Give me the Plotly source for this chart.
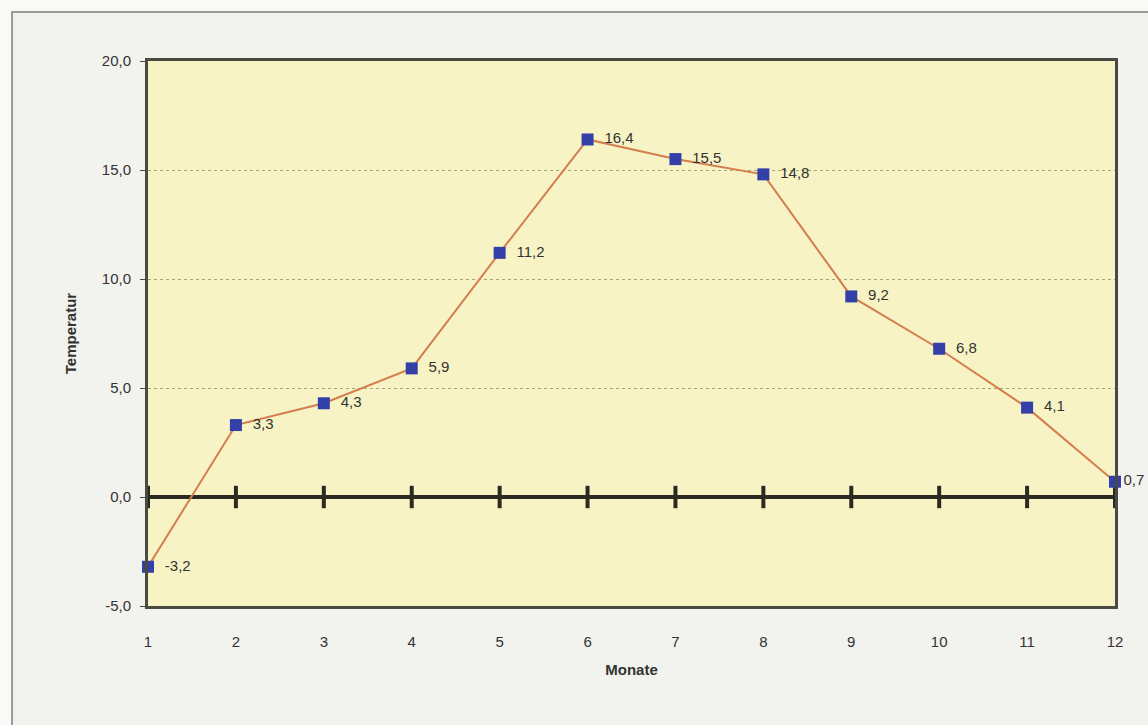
import plotly.graph_objects as go

months = [1, 2, 3, 4, 5, 6, 7, 8, 9, 10, 11, 12]
temps = [-3.2, 3.3, 4.3, 5.9, 11.2, 16.4, 15.5, 14.8, 9.2, 6.8, 4.1, 0.7]
labels = ["-3,2", "3,3", "4,3", "5,9", "11,2", "16,4", "15,5", "14,8", "9,2", "6,8", "4,1", "0,7"]
y_ticks = [-5, 0, 5, 10, 15, 20]
y_tick_text = ["-5,0", "0,0", "5,0", "10,0", "15,0", "20,0"]
zero_ticks = [0] * len(months)

fig = go.Figure()

# tick marks on the zero line
fig.add_trace(go.Scatter(
    x=months, y=zero_ticks, mode="markers",
    marker=dict(symbol="line-ns", size=16, line=dict(width=4, color="#2a2a22")),
    hoverinfo="skip", showlegend=False, cliponaxis=False,
))

texts = ["  " + t for t in labels[:-1]] + [labels[-1]]
fig.add_trace(go.Scatter(
    x=months, y=temps, mode="lines+markers+text",
    line=dict(color="#d47d4e", width=2),
    marker=dict(symbol="square", size=12, color="#3340a8"),
    text=texts, textposition="middle right",
    textfont=dict(family="Liberation Sans, Arial, sans-serif", size=15, color="#333333"),
    cliponaxis=False, showlegend=False,
))

font = "Liberation Sans, Arial, sans-serif"
fig.update_layout(
    width=1148, height=725,
    margin=dict(l=148, r=33, t=61, b=119),
    paper_bgcolor="#f9f9f7",
    plot_bgcolor="rgba(0,0,0,0)",
    font=dict(family=font, size=14, color="#333333"),
    xaxis=dict(
        range=[1, 12], tickmode="array", tickvals=months,
        showgrid=False, zeroline=False,
        showline=True, linecolor="#4a4a40", linewidth=3, mirror=True,
        ticks="", ticklabelstandoff=20,
        tickfont=dict(size=15, color="#333333"),
        title=dict(text="<b>Monate</b>", font=dict(size=15, color="#333333"), standoff=16),
    ),
    yaxis=dict(
        range=[-5, 20], tickmode="array", tickvals=y_ticks, ticktext=y_tick_text,
        showgrid=True, gridcolor="#a8a47a", griddash="dot", gridwidth=1,
        zeroline=True, zerolinecolor="#2a2a22", zerolinewidth=4,
        showline=True, linecolor="#4a4a40", linewidth=3, mirror=True,
        ticks="outside", ticklen=5, tickcolor="#4a4a40", ticklabelstandoff=6,
        tickfont=dict(size=15, color="#333333"),
        title=dict(text="<b>Temperatur</b>", font=dict(size=15, color="#333333"), standoff=22),
    ),
    shapes=[
        dict(type="rect", xref="paper", yref="paper",
             x0=-0.1406, x1=1.05, y0=-0.26, y1=1.0899,
             line=dict(color="#9a9a96", width=2), fillcolor="#f2f2ee", layer="below"),
        dict(type="rect", xref="x domain", yref="y domain",
             x0=0, x1=1, y0=0, y1=1,
             line=dict(width=0), fillcolor="#f7f3c4", layer="below"),
    ],
)

fig.write_html("out.html", config={"displayModeBar": False},
               post_script="document.body.style.margin='0px';")
